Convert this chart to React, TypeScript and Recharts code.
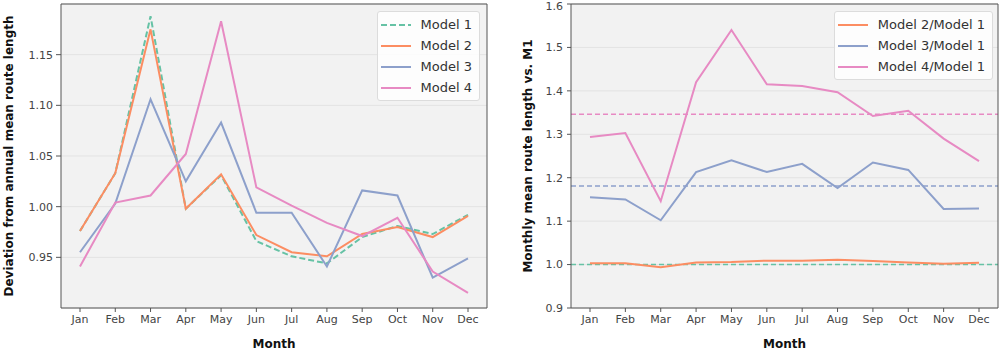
import React from "react";
import {
  LineChart,
  Line,
  XAxis,
  YAxis,
  CartesianGrid,
  ReferenceLine,
} from "recharts";

const months = ["Jan", "Feb", "Mar", "Apr", "May", "Jun", "Jul", "Aug", "Sep", "Oct", "Nov", "Dec"];

// left panel: deviation from annual mean
const model1 = [0.976, 1.033, 1.188, 0.998, 1.031, 0.966, 0.951, 0.944, 0.97, 0.981, 0.973, 0.992];
const model2 = [0.976, 1.033, 1.175, 0.998, 1.032, 0.972, 0.955, 0.951, 0.973, 0.98, 0.97, 0.991];
const model3 = [0.955, 1.003, 1.106, 1.025, 1.083, 0.994, 0.994, 0.941, 1.016, 1.011, 0.93, 0.949];
const model4 = [0.941, 1.004, 1.011, 1.052, 1.183, 1.019, 1.001, 0.984, 0.971, 0.989, 0.936, 0.915];

// right panel: ratio vs model 1
const ratio2 = [1.003, 1.003, 0.994, 1.005, 1.006, 1.009, 1.009, 1.011, 1.008, 1.005, 1.002, 1.004];
const ratio3 = [1.155, 1.15, 1.102, 1.213, 1.24, 1.213, 1.232, 1.176, 1.235, 1.218, 1.128, 1.129];
const ratio4 = [1.294, 1.303, 1.146, 1.42, 1.54, 1.415, 1.411, 1.397, 1.342, 1.354, 1.29, 1.238];
const ratioMeans = [1.0, 1.181, 1.346];

const leftTicks = [0.95, 1.0, 1.05, 1.1, 1.15];
const rightTicks = [0.9, 1.0, 1.1, 1.2, 1.3, 1.4, 1.5, 1.6];

const GREEN = "#66c2a5";
const ORANGE = "#fc8d62";
const BLUE = "#8da0cb";
const PINK = "#e78ac3";

const leftSeries = [
  { key: "m1", name: "Model 1", color: GREEN, dash: "6 3" },
  { key: "m2", name: "Model 2", color: ORANGE },
  { key: "m3", name: "Model 3", color: BLUE },
  { key: "m4", name: "Model 4", color: PINK },
];
const rightSeries = [
  { key: "r2", name: "Model 2/Model 1", color: ORANGE },
  { key: "r3", name: "Model 3/Model 1", color: BLUE },
  { key: "r4", name: "Model 4/Model 1", color: PINK },
];
const meanColors = [GREEN, BLUE, PINK];

const leftData = months.map((m, i) => ({ month: m, m1: model1[i], m2: model2[i], m3: model3[i], m4: model4[i] }));
const rightData = months.map((m, i) => ({ month: m, r2: ratio2[i], r3: ratio3[i], r4: ratio4[i] }));

const FONT = "DejaVu Sans, sans-serif";
const FRAME = "#555";
const tickStyle = { fill: "#444", fontSize: 11, fontFamily: FONT };
const labelStyle = { fill: "#111", fontSize: 12, fontWeight: "bold", fontFamily: FONT, textAnchor: "middle" };

function LegendBox({ items }: { items: { name: string; color: string; dash?: string }[] }) {
  return (
    <div
      style={{
        background: "rgba(255,255,255,0.85)",
        border: "1px solid #dcdcdc",
        borderRadius: 3,
        padding: "2px 7px 2px 3px",
        fontFamily: FONT,
        fontSize: 13,
        color: "#333",
      }}
    >
      {items.map((it) => (
        <div key={it.name} style={{ display: "flex", alignItems: "center", height: 21 }}>
          <svg width={30} height={4} style={{ marginRight: 10 }}>
            <line x1={0} y1={2} x2={30} y2={2} stroke={it.color} strokeWidth={2} strokeDasharray={it.dash} />
          </svg>
          <span style={{ whiteSpace: "nowrap" }}>{it.name}</span>
        </div>
      ))}
    </div>
  );
}

export default function App() {
  return (
    <div style={{ position: "absolute", left: 0, top: 0, width: 1000, height: 350, background: "#fff" }}>
      <div style={{ position: "absolute", left: 0, top: 0 }}>
        <LineChart width={500} height={350} data={leftData} margin={{ top: 3, right: 12, bottom: 0, left: 0 }}>
          <CartesianGrid vertical={false} stroke="#e3e3e3" fill="#f2f2f2" />
          <XAxis
            dataKey="month"
            interval={0}
            padding={{ left: 19, right: 19 }}
            height={42}
            tick={tickStyle}
            tickSize={4}
            tickMargin={3}
            stroke={FRAME}
            label={{ value: "Month", position: "insideBottom", offset: 2, style: labelStyle }}
          />
          <XAxis xAxisId="top" orientation="top" height={1} tick={false} tickLine={false} stroke={FRAME} />
          <YAxis
            domain={[0.9, 1.2]}
            ticks={leftTicks}
            width={61}
            tick={tickStyle}
            tickSize={5}
            tickMargin={3}
            tickFormatter={(v: number) => v.toFixed(2)}
            stroke={FRAME}
            label={{ value: "Deviation from annual mean route length", angle: -90, position: "insideLeft", offset: 9, textAnchor: "middle", style: labelStyle }}
          />
          <YAxis yAxisId="right" orientation="right" width={1} tick={false} tickLine={false} stroke={FRAME} domain={[0, 1]} />
          {leftSeries.map((s) => (
            <Line
              key={s.key}
              dataKey={s.key}
              name={s.name}
              stroke={s.color}
              strokeWidth={2}
              strokeDasharray={s.dash}
              dot={false}
              activeDot={false}
              isAnimationActive={false}
            />
          ))}
        </LineChart>
        <div style={{ position: "absolute", top: 11, right: 20 }}>
          <LegendBox items={leftSeries} />
        </div>
      </div>
      <div style={{ position: "absolute", left: 500, top: 0 }}>
        <LineChart width={500} height={350} data={rightData} margin={{ top: 3, right: 1, bottom: 0, left: 0 }}>
          <CartesianGrid vertical={false} stroke="#e3e3e3" fill="#f2f2f2" />
          <XAxis
            dataKey="month"
            interval={0}
            padding={{ left: 19, right: 19 }}
            height={42}
            tick={tickStyle}
            tickSize={4}
            tickMargin={3}
            stroke={FRAME}
            label={{ value: "Month", position: "insideBottom", offset: 2, style: labelStyle }}
          />
          <XAxis xAxisId="top" orientation="top" height={1} tick={false} tickLine={false} stroke={FRAME} />
          <YAxis
            domain={[0.9, 1.6]}
            ticks={rightTicks}
            width={71}
            tick={tickStyle}
            tickSize={4}
            tickMargin={4}
            tickFormatter={(v: number) => v.toFixed(1)}
            stroke={FRAME}
            label={{ value: "Monthly mean route length vs. M1", angle: -90, position: "insideLeft", offset: 28, textAnchor: "middle", style: labelStyle }}
          />
          <YAxis yAxisId="right" orientation="right" width={1} tick={false} tickLine={false} stroke={FRAME} domain={[0, 1]} />
          {ratioMeans.map((v, i) => (
            <ReferenceLine key={i} y={v} stroke={meanColors[i]} strokeWidth={1.5} strokeDasharray="5 3" />
          ))}
          {rightSeries.map((s) => (
            <Line
              key={s.key}
              dataKey={s.key}
              name={s.name}
              stroke={s.color}
              strokeWidth={2}
              dot={false}
              activeDot={false}
              isAnimationActive={false}
            />
          ))}
        </LineChart>
        <div style={{ position: "absolute", top: 11, right: 7 }}>
          <LegendBox items={rightSeries} />
        </div>
      </div>
    </div>
  );
}
